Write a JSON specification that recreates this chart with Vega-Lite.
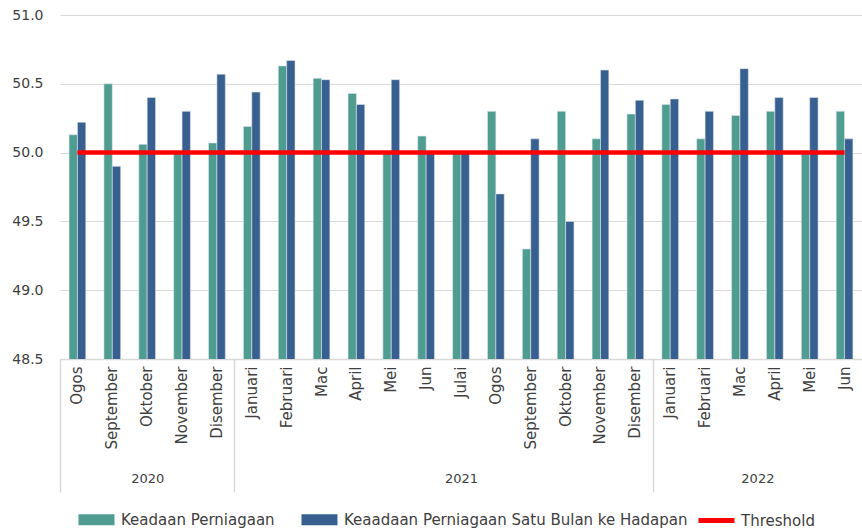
{
  "$schema": "https://vega.github.io/schema/vega-lite/v6.json",
  "padding": {"left": 5, "top": 8, "right": 0, "bottom": 4},
  "width": 802,
  "height": 344,
  "config": {
    "view": {"stroke": null},
    "font": "DejaVu Sans",
    "axis": {"labelColor": "#404040", "labelFont": "DejaVu Sans"},
    "legend": {"labelFont": "DejaVu Sans"}
  },
  "datasets": {
    "months": [
      {"month": "Ogos 2020", "Keadaan Perniagaan": 50.13, "Keaadaan Perniagaan Satu Bulan ke Hadapan": 50.22},
      {"month": "September 2020", "Keadaan Perniagaan": 50.50, "Keaadaan Perniagaan Satu Bulan ke Hadapan": 49.90},
      {"month": "Oktober 2020", "Keadaan Perniagaan": 50.06, "Keaadaan Perniagaan Satu Bulan ke Hadapan": 50.40},
      {"month": "November 2020", "Keadaan Perniagaan": 50.00, "Keaadaan Perniagaan Satu Bulan ke Hadapan": 50.30},
      {"month": "Disember 2020", "Keadaan Perniagaan": 50.07, "Keaadaan Perniagaan Satu Bulan ke Hadapan": 50.57},
      {"month": "Januari 2021", "Keadaan Perniagaan": 50.19, "Keaadaan Perniagaan Satu Bulan ke Hadapan": 50.44},
      {"month": "Februari 2021", "Keadaan Perniagaan": 50.63, "Keaadaan Perniagaan Satu Bulan ke Hadapan": 50.67},
      {"month": "Mac 2021", "Keadaan Perniagaan": 50.54, "Keaadaan Perniagaan Satu Bulan ke Hadapan": 50.53},
      {"month": "April 2021", "Keadaan Perniagaan": 50.43, "Keaadaan Perniagaan Satu Bulan ke Hadapan": 50.35},
      {"month": "Mei 2021", "Keadaan Perniagaan": 50.00, "Keaadaan Perniagaan Satu Bulan ke Hadapan": 50.53},
      {"month": "Jun 2021", "Keadaan Perniagaan": 50.12, "Keaadaan Perniagaan Satu Bulan ke Hadapan": 50.00},
      {"month": "Julai 2021", "Keadaan Perniagaan": 50.00, "Keaadaan Perniagaan Satu Bulan ke Hadapan": 50.00},
      {"month": "Ogos 2021", "Keadaan Perniagaan": 50.30, "Keaadaan Perniagaan Satu Bulan ke Hadapan": 49.70},
      {"month": "September 2021", "Keadaan Perniagaan": 49.30, "Keaadaan Perniagaan Satu Bulan ke Hadapan": 50.10},
      {"month": "Oktober 2021", "Keadaan Perniagaan": 50.30, "Keaadaan Perniagaan Satu Bulan ke Hadapan": 49.50},
      {"month": "November 2021", "Keadaan Perniagaan": 50.10, "Keaadaan Perniagaan Satu Bulan ke Hadapan": 50.60},
      {"month": "Disember 2021", "Keadaan Perniagaan": 50.28, "Keaadaan Perniagaan Satu Bulan ke Hadapan": 50.38},
      {"month": "Januari 2022", "Keadaan Perniagaan": 50.35, "Keaadaan Perniagaan Satu Bulan ke Hadapan": 50.39},
      {"month": "Februari 2022", "Keadaan Perniagaan": 50.10, "Keaadaan Perniagaan Satu Bulan ke Hadapan": 50.30},
      {"month": "Mac 2022", "Keadaan Perniagaan": 50.27, "Keaadaan Perniagaan Satu Bulan ke Hadapan": 50.61},
      {"month": "April 2022", "Keadaan Perniagaan": 50.30, "Keaadaan Perniagaan Satu Bulan ke Hadapan": 50.40},
      {"month": "Mei 2022", "Keadaan Perniagaan": 50.00, "Keaadaan Perniagaan Satu Bulan ke Hadapan": 50.40},
      {"month": "Jun 2022", "Keadaan Perniagaan": 50.30, "Keaadaan Perniagaan Satu Bulan ke Hadapan": 50.10}
    ],
    "threshold": [
      {"start": "Ogos 2020", "end": "Jun 2022", "series": "Threshold", "value": 50}
    ],
    "years": [
      {"year": "2020", "first": 0, "last": 5},
      {"year": "2021", "first": 5, "last": 17},
      {"year": "2022", "first": 17, "last": 23}
    ]
  },
  "layer": [
    {
      "data": {"name": "months"},
      "transform": [
        {"fold": ["Keadaan Perniagaan", "Keaadaan Perniagaan Satu Bulan ke Hadapan"], "as": ["series", "value"]}
      ],
      "mark": {"type": "bar", "stroke": "#dde5ee", "strokeWidth": 0.6, "clip": true},
      "encoding": {
        "x": {
          "field": "month",
          "type": "nominal",
          "sort": null,
          "scale": {
            "domain": ["Ogos 2020", "September 2020", "Oktober 2020", "November 2020", "Disember 2020", "Januari 2021", "Februari 2021", "Mac 2021", "April 2021", "Mei 2021", "Jun 2021", "Julai 2021", "Ogos 2021", "September 2021", "Oktober 2021", "November 2021", "Disember 2021", "Januari 2022", "Februari 2022", "Mac 2022", "April 2022", "Mei 2022", "Jun 2022"],
            "paddingInner": 0.52,
            "paddingOuter": 0.26
          },
          "axis": {
            "orient": "bottom",
            "title": null,
            "labelExpr": "split(datum.value, ' ')[0]",
            "labelAngle": -90,
            "labelFontSize": 15,
            "labelPadding": 7,
            "ticks": false,
            "domain": true,
            "domainColor": "#d9d9d9",
            "domainWidth": 1.5,
            "grid": false
          }
        },
        "xOffset": {
          "field": "series",
          "type": "nominal",
          "sort": ["Keadaan Perniagaan", "Keaadaan Perniagaan Satu Bulan ke Hadapan"],
          "scale": {"paddingInner": 0, "paddingOuter": 0}
        },
        "y": {
          "field": "value",
          "type": "quantitative",
          "scale": {"domain": [48.5, 51.0], "zero": false, "nice": false},
          "axis": {
            "title": null,
            "values": [48.5, 49.0, 49.5, 50.0, 50.5, 51.0],
            "format": ".1f",
            "labelFontSize": 14,
            "labelPadding": 17,
            "ticks": false,
            "domain": false,
            "grid": true,
            "gridColor": "#d9d9d9",
            "gridWidth": 1.2,
            "minExtent": 55,
            "maxExtent": 55
          }
        },
        "color": {
          "field": "series",
          "type": "nominal",
          "scale": {
            "domain": ["Keadaan Perniagaan", "Keaadaan Perniagaan Satu Bulan ke Hadapan"],
            "range": ["#4f9c91", "#375f8f"]
          },
          "legend": {
            "title": null,
            "orient": "bottom",
            "direction": "horizontal",
            "offset": 19,
            "labelFontSize": 15,
            "labelColor": "#404040",
            "labelLimit": 500,
            "labelOffset": 46,
            "columnPadding": 8,
            "symbolSize": 144,
            "symbolStrokeWidth": 0,
            "symbolType": "M1.83,-0.9H7.83V0.9H1.83Z"
          }
        }
      }
    },
    {
      "data": {"name": "threshold"},
      "mark": {"type": "rule", "strokeWidth": 4.5},
      "encoding": {
        "x": {
          "field": "start",
          "type": "nominal",
          "scale": {
            "domain": ["Ogos 2020", "September 2020", "Oktober 2020", "November 2020", "Disember 2020", "Januari 2021", "Februari 2021", "Mac 2021", "April 2021", "Mei 2021", "Jun 2021", "Julai 2021", "Ogos 2021", "September 2021", "Oktober 2021", "November 2021", "Disember 2021", "Januari 2022", "Februari 2022", "Mac 2022", "April 2022", "Mei 2022", "Jun 2022"],
            "paddingInner": 0.52,
            "paddingOuter": 0.26
          },
          "axis": null
        },
        "x2": {"field": "end"},
        "y": {"field": "value", "type": "quantitative"},
        "stroke": {
          "field": "series",
          "type": "nominal",
          "scale": {"domain": ["Threshold"], "range": ["#ff0000"]},
          "legend": {
            "title": null,
            "orient": "bottom",
            "direction": "horizontal",
            "offset": 19,
            "labelFontSize": 15,
            "labelColor": "#404040",
            "labelLimit": 500,
            "labelOffset": 28,
            "symbolSize": 144,
            "symbolStrokeWidth": 5,
            "symbolType": "M-1,0H5"
          }
        }
      }
    },
    {
      "data": {"name": "years"},
      "mark": {"type": "rect", "opacity": 0},
      "encoding": {
        "x": {
          "field": "first",
          "type": "quantitative",
          "scale": {"domain": [0, 23], "nice": false, "zero": false},
          "axis": {
            "orient": "bottom",
            "title": null,
            "values": [0, 2.5, 5, 11.5, 17, 20],
            "labelExpr": "datum.value == 2.5 ? '2020' : datum.value == 11.5 ? '2021' : datum.value == 20 ? '2022' : ''",
            "labelFontSize": 13,
            "labelPadding": -20,
            "labelFlush": false,
            "labelOverlap": false,
            "tickSize": 133,
            "tickColor": "#d9d9d9",
            "tickWidth": 1.5,
            "tickOpacity": {"condition": {"test": "datum.value == 0 || datum.value == 5 || datum.value == 17", "value": 1}, "value": 0},
            "domain": false,
            "grid": false
          }
        },
        "x2": {"field": "last"}
      }
    }
  ],
  "resolve": {"scale": {"x": "independent"}, "axis": {"x": "independent"}}
}
